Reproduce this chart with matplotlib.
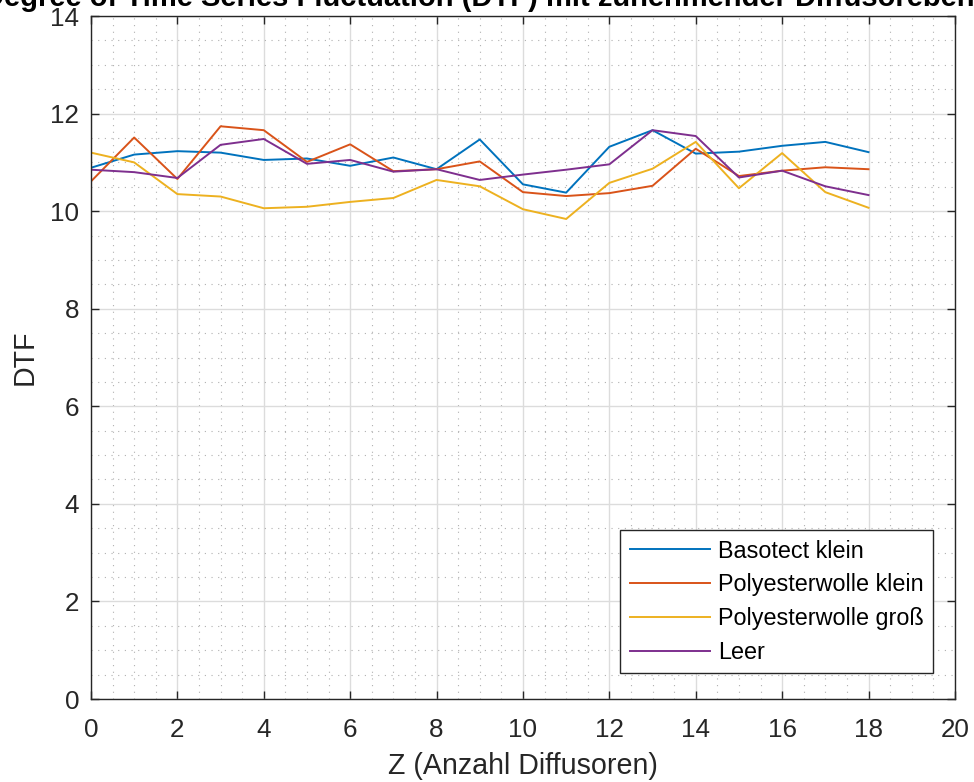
import matplotlib
matplotlib.use("Agg")
import matplotlib.pyplot as plt
from matplotlib.ticker import MultipleLocator

plt.rcParams['font.family'] = ['Liberation Sans', 'DejaVu Sans']

z = list(range(19))

basotect_klein = [10.89, 11.16, 11.23, 11.20, 11.05, 11.08, 10.93, 11.10, 10.86, 11.47,
                  10.55, 10.38, 11.32, 11.66, 11.18, 11.22, 11.34, 11.42, 11.21]
polyester_klein = [10.61, 11.51, 10.66, 11.74, 11.66, 11.01, 11.37, 10.82, 10.86, 11.02,
                   10.39, 10.31, 10.37, 10.52, 11.28, 10.72, 10.83, 10.90, 10.86]
polyester_gross = [11.20, 11.00, 10.35, 10.30, 10.06, 10.09, 10.19, 10.27, 10.64, 10.51,
                   10.04, 9.84, 10.58, 10.87, 11.42, 10.47, 11.19, 10.39, 10.07]
leer = [10.85, 10.80, 10.68, 11.36, 11.48, 10.97, 11.05, 10.81, 10.86, 10.64,
        10.75, 10.85, 10.96, 11.66, 11.54, 10.69, 10.83, 10.51, 10.33]

series = [
    ("Basotect klein", basotect_klein, "#0072BD"),
    ("Polyesterwolle klein", polyester_klein, "#D95319"),
    ("Polyesterwolle groß", polyester_gross, "#EDB120"),
    ("Leer", leer, "#7E2F8E"),
]

fig = plt.figure(figsize=(9.74, 7.82), dpi=100)
ax = fig.add_axes([0.0934, 0.1061, 0.887, 0.8734])

for name, vals, col in series:
    ax.plot(z, vals, color=col, lw=1.4, label=name)

ax.set_xlim(0, 20)
ax.set_ylim(0, 14)
ax.xaxis.set_major_locator(MultipleLocator(2))
ax.yaxis.set_major_locator(MultipleLocator(2))
ax.xaxis.set_minor_locator(MultipleLocator(0.5))
ax.yaxis.set_minor_locator(MultipleLocator(0.5))

ax.grid(which='major', color='#dcdcdc', lw=1.0)
ax.grid(which='minor', color='#b0b0b0', lw=0.8, ls=(0, (1, 5)))
ax.set_axisbelow(True)

ax.tick_params(which='both', direction='in', top=True, right=True, labelsize=18.75,
               colors='#262626')
ax.tick_params(which='major', length=6, width=1)
ax.tick_params(axis='x', which='major', pad=13.5)
ax.tick_params(axis='y', which='major', pad=8.5)
ax.tick_params(which='minor', length=0)
for s in ax.spines.values():
    s.set_color('#262626')
    s.set_linewidth(1)

ax.set_xlabel("Z (Anzahl Diffusoren)", fontsize=20.6, color='#262626', labelpad=7.5)
ax.set_ylabel("DTF", fontsize=20.6, color='#262626', labelpad=8)

# title centred on the figure, wider than the figure itself
fig.text(0.5, 1 - 6 / 782,
         "Degree of Time Series Fluctuation (DTF) mit zunehmender Diffusorebene",
         ha='center', va='baseline', fontsize=21, fontweight='bold', color='black')

leg = ax.legend(loc='lower right', bbox_to_anchor=(0.9745, 0.038), fontsize=16.8,
                frameon=True, fancybox=False, handlelength=3.43, borderpad=0.4,
                labelspacing=0.46, handletextpad=0.34, borderaxespad=0)
leg.get_frame().set_edgecolor('#262626')
leg.get_frame().set_linewidth(1)
leg.get_frame().set_alpha(1)

fig.savefig("out.png", dpi=100)
